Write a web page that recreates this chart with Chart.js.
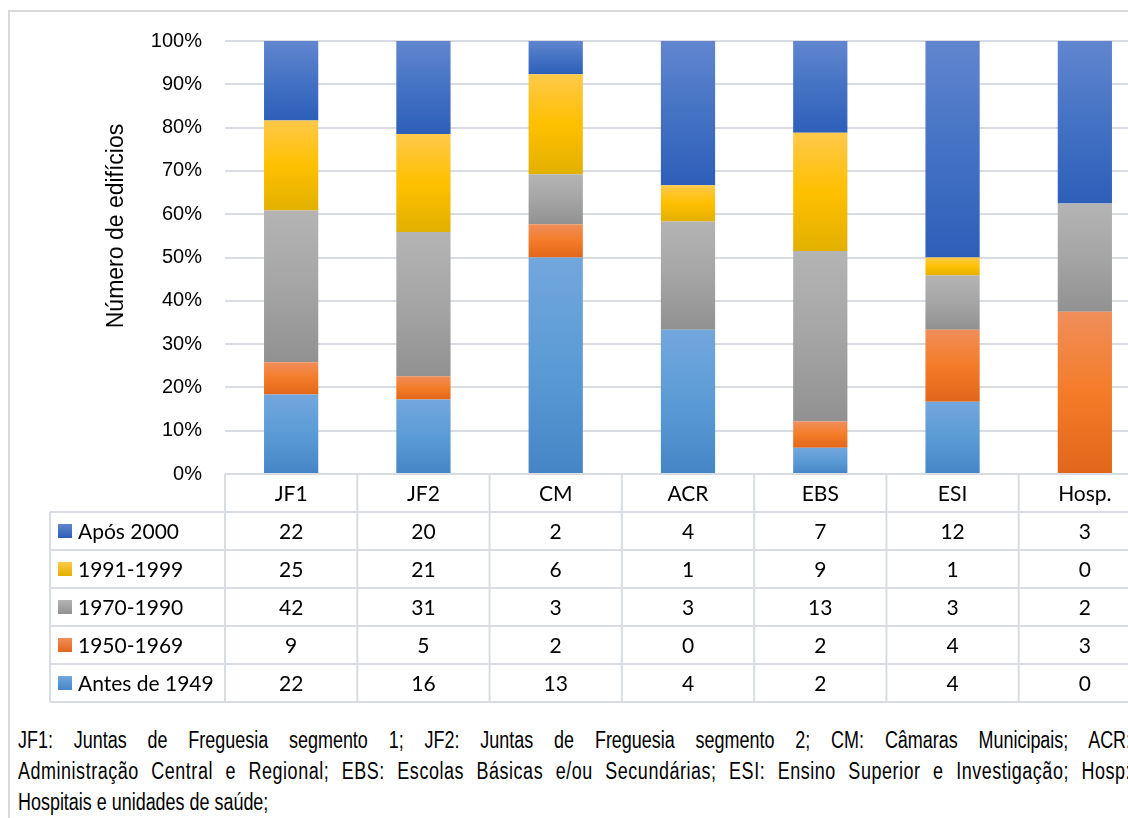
<!DOCTYPE html>
<html lang="pt">
<head>
<meta charset="utf-8">
<script src="https://cdn.jsdelivr.net/npm/chart.js@4.4.1/dist/chart.umd.min.js"></script>
<style>
  html, body { margin: 0; padding: 0; background: #fff; overflow: hidden; }
  body { width: 1128px; height: 818px; position: relative; }
  #moldura {
    position: absolute; left: 8px; top: 10px; width: 1300px; height: 1000px;
    border: 2px solid #d9d9d9; box-sizing: border-box;
  }
  #grafico { position: absolute; left: 0; top: 0; }
  #legenda {
    position: absolute; left: 18px; top: 725px; width: 1427px;
    font: 23px "Liberation Sans", Arial, sans-serif; color: #000; line-height: 31px;
    transform: scaleX(0.78); transform-origin: 0 0;
  }
  #legenda div { white-space: nowrap; text-align: justify; text-align-last: justify; }
  #legenda div.apertada { letter-spacing: 0.7px; }
  #legenda div.ultima { text-align-last: left; }
</style>
</head>
<body>
<div id="moldura"></div>
<canvas id="grafico" width="1160" height="712"></canvas>
<div id="legenda">
  <div>JF1: Juntas de Freguesia segmento 1; JF2: Juntas de Freguesia segmento 2; CM: Câmaras Municipais; ACR:</div>
  <div class="apertada">Administração Central e Regional; EBS: Escolas Básicas e/ou Secundárias; ESI: Ensino Superior e Investigação; Hosp:</div>
  <div class="ultima">Hospitais e unidades de saúde;</div>
</div>
<script>
// =======================================================================
// DADOS
// =======================================================================
const categorias = ["JF1", "JF2", "CM", "ACR", "EBS", "ESI", "Hosp."];
const periodos = ["Antes de 1949", "1950-1969", "1970-1990", "1991-1999", "Após 2000"];

const antes1949 = [22, 16, 13, 4, 2, 4, 0];
const de1950a1969 = [9, 5, 2, 0, 2, 4, 3];
const de1970a1990 = [42, 31, 3, 3, 13, 3, 2];
const de1991a1999 = [25, 21, 6, 1, 9, 1, 0];
const apos2000 = [22, 20, 2, 4, 7, 12, 3];

const contagens = [antes1949, de1950a1969, de1970a1990, de1991a1999, apos2000];
const ticksY = [0, 10, 20, 30, 40, 50, 60, 70, 80, 90, 100];

// cores [topo, meio, base] de cada série
const CORES = [
  ["#72a7dd", "#5b9bd5", "#4585c6"],
  ["#f08e5a", "#f47c28", "#e2661a"],
  ["#b4b4b4", "#a5a5a5", "#919191"],
  ["#ffc94a", "#ffc000", "#e2b000"],
  ["#6186cf", "#4472c4", "#2d5fb9"],
];

// percentagens de cada coluna (gráfico 100% empilhado)
const totais = categorias.map((_, i) => contagens.reduce((s, serie) => s + serie[i], 0));
const percentagens = contagens.map((serie) => serie.map((v, i) => (v / totais[i]) * 100));

// =======================================================================
// GRADIENTE POR SEGMENTO
// =======================================================================
function corSegmento(context) {
  const chart = context.chart;
  const d = context.datasetIndex;
  const i = context.dataIndex;
  const y = chart.scales.y;
  if (!y || i === undefined) return CORES[d][1];
  let inicio = 0;
  for (let k = 0; k < d; k++) inicio += percentagens[k][i];
  const fim = inicio + percentagens[d][i];
  const topo = y.getPixelForValue(fim);
  const base = y.getPixelForValue(inicio);
  if (!isFinite(topo) || !isFinite(base) || base - topo < 1) return CORES[d][1];
  const g = chart.ctx.createLinearGradient(0, topo, 0, base);
  g.addColorStop(0, CORES[d][0]);
  g.addColorStop(0.5, CORES[d][1]);
  g.addColorStop(1, CORES[d][2]);
  return g;
}

// =======================================================================
// PLUGIN TABELA DE DADOS + TÍTULO DO EIXO
// =======================================================================
const LINHA = "#d9dde3";
const tabelaDados = {
  id: "tabelaDados",
  afterDraw(chart) {
    const { ctx, chartArea: area } = chart;
    const n = categorias.length;
    const colW = (area.right - area.left) / n;
    const rowH = 38;
    const topoT = area.bottom;
    const fundoT = topoT + rowH * (periodos.length + 1);
    const esq = 50;

    ctx.save();
    ctx.strokeStyle = LINHA;
    ctx.lineWidth = 2;
    ctx.beginPath();
    for (let k = 1; k <= periodos.length + 1; k++) {
      const yy = topoT + rowH * k;
      ctx.moveTo(esq, yy);
      ctx.lineTo(area.right, yy);
    }
    for (let c = 0; c <= n; c++) {
      const xx = area.left + colW * c;
      ctx.moveTo(xx, topoT);
      ctx.lineTo(xx, fundoT);
    }
    ctx.moveTo(esq, topoT + rowH);
    ctx.lineTo(esq, fundoT);
    ctx.stroke();

    ctx.fillStyle = "#000";
    ctx.font = '21px Lato, "Open Sans", sans-serif';
    ctx.textBaseline = "middle";
    ctx.textAlign = "center";
    categorias.forEach((cat, i) => {
      ctx.fillText(cat, chart.scales.x.getPixelForValue(i), topoT + rowH / 2 + 1);
    });

    // linhas da tabela: de cima (Após 2000) para baixo (Antes de 1949)
    for (let r = 0; r < periodos.length; r++) {
      const d = periodos.length - 1 - r;
      const cy = topoT + rowH * (r + 1) + rowH / 2 + 1;
      const g = ctx.createLinearGradient(0, cy - 8, 0, cy + 6);
      g.addColorStop(0, CORES[d][0]);
      g.addColorStop(1, CORES[d][2]);
      ctx.fillStyle = g;
      ctx.fillRect(58, cy - 8, 14, 14);
      ctx.fillStyle = "#000";
      ctx.textAlign = "left";
      ctx.fillText(periodos[d], 78, cy);
      ctx.textAlign = "center";
      contagens[d].forEach((v, i) => {
        ctx.fillText(String(v), chart.scales.x.getPixelForValue(i), cy);
      });
    }

    // título do eixo Y
    ctx.translate(117, 226);
    ctx.rotate(-Math.PI / 2);
    ctx.font = '23px "Liberation Sans", Arial, sans-serif';
    ctx.textAlign = "center";
    ctx.fillText("Número de edifícios", 0, 0);
    ctx.restore();
  },
};

// =======================================================================
// GRÁFICO
// =======================================================================
const ctx = document.getElementById("grafico").getContext("2d");
new Chart(ctx, {
  type: "bar",
  data: {
    labels: categorias,
    datasets: periodos.map((p, d) => ({
      label: p,
      data: percentagens[d],
      backgroundColor: corSegmento,
      borderWidth: 0,
      barPercentage: 0.41,
      categoryPercentage: 1,
    })),
  },
  options: {
    responsive: false,
    animation: false,
    layout: { padding: { left: 0, top: 41, right: 9, bottom: 238 } },
    plugins: { legend: { display: false }, tooltip: { enabled: false } },
    scales: {
      x: { stacked: true, display: false },
      y: {
        stacked: true,
        min: 0,
        max: 100,
        afterFit(scale) { scale.width = 225; },
        afterBuildTicks(scale) { scale.ticks = ticksY.map((v) => ({ value: v })); },
        border: { display: false },
        grid: { color: LINHA, lineWidth: 2, drawTicks: false },
        ticks: {
          padding: 23,
          color: "#000",
          font: { family: '"Liberation Sans", Arial, sans-serif', size: 20 },
          callback: (v) => v + "%",
        },
      },
    },
  },
  plugins: [tabelaDados],
});
</script>
</body>
</html>
